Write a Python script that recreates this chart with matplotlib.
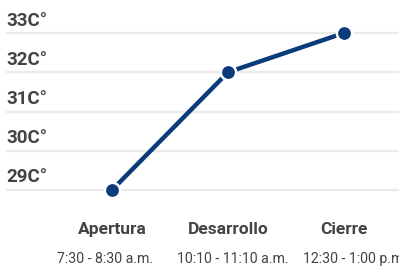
import matplotlib.pyplot as plt
import matplotlib.transforms as mtransforms

plt.rcParams['font.family'] = ['Roboto', 'DejaVu Sans']

stages = ['Apertura', 'Desarrollo', 'Cierre']
times = ['7:30 - 8:30 a.m.', '10:10 - 11:10 a.m.', '12:30 - 1:00 p.m.']
temps = [29, 32, 33]
yticks = [29, 30, 31, 32, 33]

W, H = 399, 269
PX_X, PX_Y = 116, 39.25   # pixels per data unit
fig = plt.figure(figsize=(W / 100, H / 100), dpi=100)
# axes in pixel coordinates: left 6, right 399, top 20, bottom 200
ax = fig.add_axes([6 / W, (H - 200) / H, 393 / W, 180 / H])

x = list(range(len(stages)))
ax.set_xlim(-106 / PX_X, -106 / PX_X + 393 / PX_X)
ax.set_ylim(29 - 10 / PX_Y, 33 + 13 / PX_Y)

trans = mtransforms.blended_transform_factory(ax.transAxes, ax.transData)
for t in yticks:
    ax.axhline(t, color='#ebebeb', lw=1.6, zorder=1)
    ax.text(0, t + 7.5 / PX_Y, f'{t}C°', transform=trans,
            ha='left', va='baseline', fontsize=13.5, fontweight='bold', color='#444444')

ax.plot(x, temps, color='#0b3b7b', lw=3.2, marker='o', markersize=11,
        markerfacecolor='#0b3b7b', markeredgecolor='white', markeredgewidth=1.8,
        solid_capstyle='butt', zorder=3)

sub_shift = [-6.5, 4.5, 11]  # pixel offset of the time labels
for i, (s, tm) in enumerate(zip(stages, times)):
    ax.text(i, 29 - 44 / PX_Y, s, ha='center', va='baseline',
            fontsize=12.5, fontweight='bold', color='#444444', clip_on=False)
    ax.text(i + sub_shift[i] / PX_X, 29 - 73 / PX_Y, tm, ha='center', va='baseline',
            fontsize=10.2, color='#444444', clip_on=False)

ax.axis('off')
fig.savefig('out.png', dpi=100)
